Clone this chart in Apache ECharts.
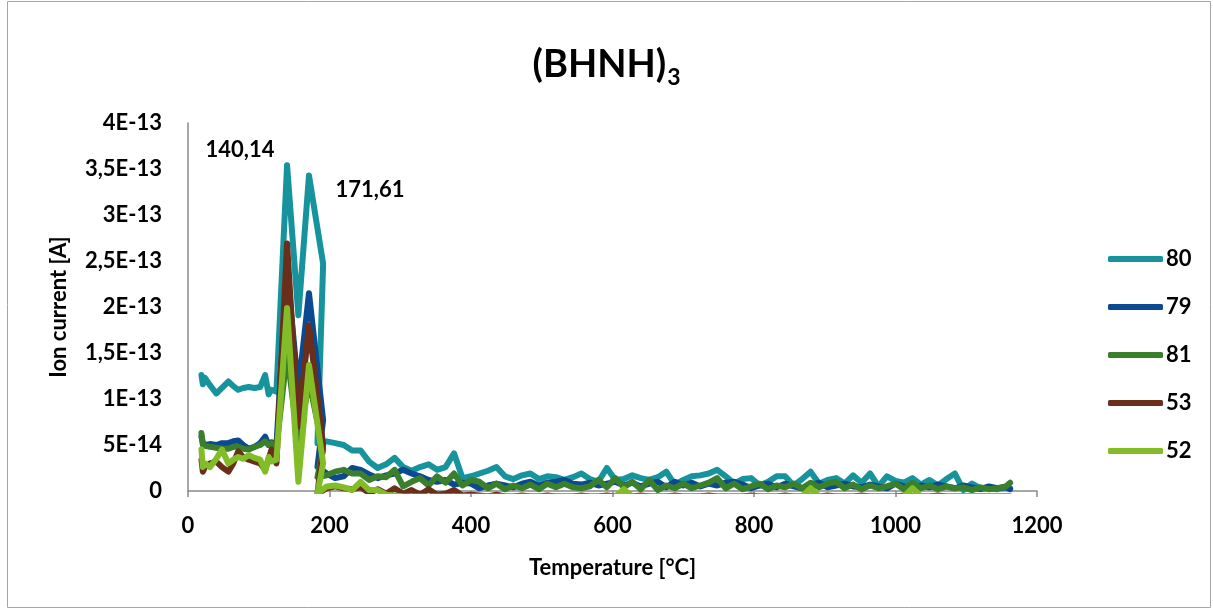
<!DOCTYPE html>
<html><head><meta charset="utf-8">
<script src="https://cdn.jsdelivr.net/npm/echarts@6/dist/echarts.min.js"></script>
<style>html,body{margin:0;padding:0;background:#fff}#c{width:1213px;height:610px}</style>
</head><body><div id="c"></div>
<script>
// Temperature [°C] (shared by all series)
const temperatures = [
  19,21,24,31,40,48,57,64,71,78,86,94,102,109,114,118,125,140,156,171,191,183,
  196,208,220,232,244,256,268,280,292,304,
  316,328,340,352,364,376,388,400,412,424,
  436,448,460,472,484,496,508,520,532,544,
  556,568,580,592,604,616,628,640,652,664,
  676,688,700,712,724,736,748,760,772,784,
  796,808,820,832,844,856,868,880,892,904,
  916,928,940,952,964,976,988,1000,1012,1024,
  1036,1048,1060,1072,1084,1096,1108,1120,1132,1144,
  1156,1162
];
// Ion current, in units of 1E-14 A
const ion80 = [
  12.6,11.6,12.3,11.5,10.6,11.2,11.9,11.4,11.0,11.2,11.3,11.2,11.3,12.6,10.5,11.0,10.8,35.4,19.1,34.3,24.7,5.2,
  5.4,5.2,5.0,4.4,4.4,3.2,2.5,2.9,3.6,2.6,
  2.2,2.6,2.9,2.3,2.6,4.1,1.4,1.6,1.9,2.2,
  2.6,1.6,1.3,1.7,1.9,1.3,1.6,1.5,1.2,1.5,
  1.9,1.3,1.0,2.5,1.2,1.3,1.7,1.4,1.2,1.5,
  2.1,0.7,1.2,1.6,1.7,1.9,2.3,1.6,0.8,1.3,
  1.4,0.6,1.0,1.6,1.6,0.6,1.3,2.1,0.8,1.2,
  1.4,0.8,1.7,0.9,1.9,0.5,1.6,1.1,0.9,1.4,
  0.7,1.2,0.6,1.3,1.9,0.1,0.8,0.3,0.3,0.2,
  0.5,0.3
];
const ion79 = [
  5.9,5.2,5.0,5.1,5.0,5.2,5.2,5.4,5.5,5.0,4.6,4.8,5.2,5.9,5.0,5.3,5.0,24.0,11.0,21.5,7.7,2.6,
  1.9,1.4,1.6,2.5,2.3,1.8,1.4,1.7,1.9,2.3,
  1.9,1.6,1.2,1.0,1.2,0.7,0.9,0.8,0.3,0.6,
  0.8,0.6,0.4,0.8,1.0,0.6,0.9,1.0,1.2,0.8,
  0.7,0.9,0.6,0.8,1.0,0.6,0.9,0.5,0.8,1.0,
  0.4,1.0,0.6,0.9,0.5,0.8,0.6,0.9,1.0,0.7,
  0.3,0.6,0.8,0.4,0.8,0.5,0.3,0.6,0.9,0.4,
  0.6,0.8,0.5,0.4,0.7,0.5,0.3,0.8,0.5,0.3,
  0.6,0.4,0.7,0.5,0.3,0.6,0.4,0.2,0.5,0.3,
  0.4,0.2
];
const ion81 = [
  6.3,5.0,4.9,4.8,4.7,4.6,4.6,4.8,4.8,4.6,4.5,4.8,5.0,5.4,5.0,5.2,4.8,15.0,5.0,12.0,4.5,1.5,
  1.7,2.1,2.3,1.9,1.9,1.2,1.6,1.5,2.3,0.5,
  1.0,1.4,0.6,1.6,0.9,1.9,0.6,1.2,1.0,0.3,
  0.8,0.2,0.6,0.3,0.7,0.2,0.8,0.4,0.8,0.4,
  0.3,0.5,1.2,0.4,1.4,0.4,1.0,0.2,1.2,0.1,
  0.6,0.3,0.8,0.3,0.6,0.9,1.4,0.3,0.8,0.2,
  0.5,0.8,0.2,0.6,0.4,0.8,0.3,0.9,0.4,0.8,
  1.0,0.3,0.7,0.2,0.6,0.3,0.5,0.8,0.2,0.9,
  0.3,0.6,0.2,0.5,0.3,0.4,0.1,0.4,0.2,0.3,
  0.5,0.9
];
const ion53 = [
  3.4,2.1,2.6,3.0,3.2,2.6,2.1,3.0,4.3,3.7,3.4,3.2,3.0,2.3,3.5,4.5,3.0,26.9,7.0,18.0,5.0,-0.3,
  0.3,0.5,0.3,0.2,0.4,-0.2,0.2,-0.3,0.3,-0.3,
  0.1,-0.4,0.2,-0.4,-0.3,0.1,-0.5,-0.4,-0.5,-0.6,
  -0.4,-0.6,-0.6,-0.5,-0.6,-0.6,-0.5,-0.6,-0.6,-0.6,
  -0.5,-0.6,-0.6,-0.5,-0.6,-0.6,-0.6,-0.5,-0.6,-0.6,
  -0.6,-0.5,-0.6,-0.6,-0.6,-0.5,-0.6,-0.6,-0.6,-0.6,
  -0.5,-0.6,-0.6,-0.6,-0.5,-0.6,-0.6,-0.6,-0.6,-0.5,
  -0.6,-0.6,-0.6,-0.5,-0.6,-0.6,-0.6,-0.6,-0.5,-0.6,
  -0.6,-0.6,-0.5,-0.6,-0.6,-0.6,-0.6,-0.6,-0.6,-0.6,
  -0.6,-0.6
];
const ion52 = [
  4.5,2.6,3.0,2.6,3.5,4.5,3.0,3.4,3.7,3.5,3.9,3.6,3.4,2.1,3.7,3.2,3.4,19.9,1.0,13.7,3.0,-0.3,
  0.5,0.6,0.4,0.1,1.0,0.1,0.1,-0.4,-0.5,-0.6,
  -0.6,-0.6,-0.6,-0.6,-0.6,-0.6,-0.6,-0.6,-0.6,-0.6,
  -0.6,-0.6,-0.6,-0.6,-0.6,-0.6,-0.6,-0.6,-0.6,-0.6,
  -0.6,-0.6,-0.6,-0.6,-0.6,0.2,-0.6,-0.6,-0.6,-0.6,
  -0.6,-0.6,-0.6,-0.6,-0.6,-0.6,-0.6,-0.6,-0.6,-0.6,
  -0.6,-0.6,-0.6,-0.6,-0.6,-0.6,-0.6,0.3,-0.6,-0.6,
  -0.6,-0.6,-0.6,-0.6,-0.6,-0.6,-0.6,-0.6,-0.6,0.3,
  -0.6,-0.6,-0.6,-0.6,-0.6,-0.6,-0.6,-0.6,-0.6,-0.6,
  -0.6,-0.6
];
const seriesNames = ['80','79','81','53','52'];
const seriesValues = [ion80, ion79, ion81, ion53, ion52];
const seriesColors = ['#16939c','#0b4a91','#3a7f2b','#6a2f1b','#82bd27'];
const yTickLabels = ['0','5E-14','1E-13','1,5E-13','2E-13','2,5E-13','3E-13','3,5E-13','4E-13'];
const peakLabels = [{t:140, v:35.4, text:'140,14', off:[-47,-15]}, {t:171, v:34.3, text:'171,61', off:[61,15]}];

const FONT = 'Lato, "Open Sans", sans-serif';
const labelFont = {fontFamily:FONT, fontWeight:'bold', fontSize:22, color:'#000'};
const chart = echarts.init(document.getElementById('c'), null, {renderer:'canvas'});
const series = seriesNames.map((name, i) => ({
  name, type:'line', showSymbol:false, symbol:'none', smooth:false, animation:false,
  color: seriesColors[i],
  lineStyle:{width:6, color:seriesColors[i], cap:'round', join:'round'},
  data: temperatures.map((t, k) => [t, seriesValues[i][k]]),
  clip:true
}));

const mainTitle = {
  text:'{a|(BHNH)}{b|3}', left:'center', top:36,
  textStyle:{rich:{
    a:{fontFamily:FONT, fontWeight:'bold', fontSize:38, color:'#000', lineHeight:48},
    b:{fontFamily:FONT, fontWeight:'bold', fontSize:23, color:'#000', lineHeight:48, verticalAlign:'bottom', padding:[24,0,0,1]}
  }}
};

chart.setOption({
  backgroundColor:'#fff',
  animation:false,
  title:[mainTitle],
  grid:{left:188, right:176, top:123, bottom:119, containLabel:false},
  legend:{
    orient:'vertical', left:1103, top:243, itemWidth:55, itemHeight:6, itemGap:26, icon:'roundRect',
    textStyle:{fontFamily:FONT, fontWeight:'bold', fontSize:22, color:'#000', lineHeight:22, padding:[0,0,0,-2]},
    data: seriesNames
  },
  xAxis:{
    type:'value', min:0, max:1200, interval:200,
    name:'Temperature [°C]', nameLocation:'middle', nameGap:66,
    nameTextStyle:labelFont,
    axisLine:{show:true, onZero:false, lineStyle:{color:'#898989', width:1.5}},
    axisTick:{show:true, length:6, lineStyle:{color:'#898989', width:1.5}},
    axisLabel:Object.assign({margin:24, formatter:v => String(v)}, labelFont),
    splitLine:{show:false}
  },
  yAxis:{
    type:'value', min:0, max:40, interval:5,
    name:'Ion current [A]', nameLocation:'middle', nameRotate:90, nameGap:118,
    nameTextStyle:labelFont,
    axisLine:{show:true, lineStyle:{color:'#898989', width:1.5}},
    axisTick:{show:false},
    axisLabel:Object.assign({margin:26, formatter:v => yTickLabels[Math.round(v/5)]}, labelFont),
    splitLine:{show:false}
  },
  graphic:[{type:'rect', silent:true, z:-10, shape:{x:7.5, y:1.5, width:1203, height:606},
    style:{fill:'none', stroke:'#a6a6a6', lineWidth:1}}],
  series
});

// Peak annotations, anchored to data coordinates
const titles = [mainTitle];
peakLabels.forEach(p => {
  const pt = chart.convertToPixel({gridIndex:0}, [p.t, p.v]);
  titles.push({text:p.text, left:Math.round(pt[0] + p.off[0]), top:Math.round(pt[1] + p.off[1] - 13),
    textAlign:'center', padding:0,
    textStyle:{fontFamily:FONT, fontWeight:'bold', fontSize:22, color:'#000', lineHeight:26}});
});
chart.setOption({title:titles});
</script>
</body></html>
